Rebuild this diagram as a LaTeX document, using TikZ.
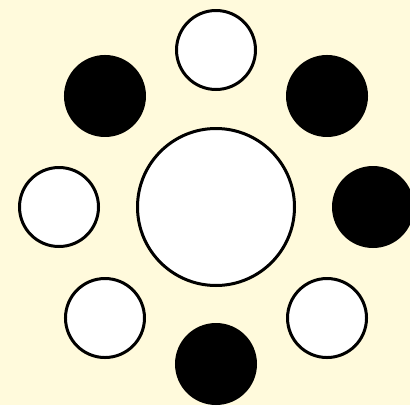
\documentclass[tikz,border=0pt]{standalone}
\usepackage{tikz}
\usetikzlibrary{calc}

\definecolor{paper}{HTML}{FFFADC}

\begin{document}
\begin{tikzpicture}[
  x=1pt, y=1pt,
  disc/.style={draw, line width=3pt, circle, inner sep=0pt},
  hubdisc/.style={disc, fill=white, minimum size=157pt},
  rimdisc/.style={disc, minimum size=79pt}
]
\fill[paper] (0,0) rectangle (410,-405);
\useasboundingbox (0,0) rectangle (410,-405);
\node[hubdisc] (hub) at (216,-207) {};
\foreach \ang/\col [count=\i] in {90/white, 45/black, 0/black, -45/white, -90/black, -135/white, 180/white, 135/black}
  \node[rimdisc, fill=\col] (rim\i) at ($(hub.center)+(\ang:157)$) {};
\end{tikzpicture}
\end{document}
